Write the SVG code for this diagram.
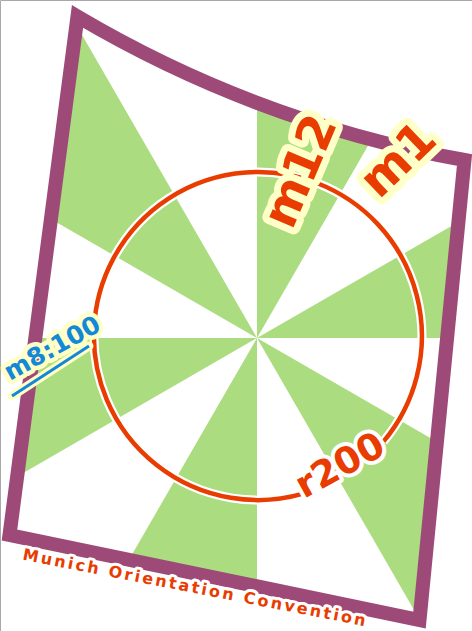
<svg xmlns="http://www.w3.org/2000/svg" width="472" height="631" viewBox="0 0 472 631">
<defs>
<style>
.g{fill:#acdc80}
.lbl{font-family:"DejaVu Sans","Liberation Sans",sans-serif;font-weight:bold}
.halo{paint-order:stroke;stroke-linejoin:round;stroke-linecap:round}
</style>
<clipPath id="inside"><path d="M77.5,16.5 Q258,123 464.5,160 L419.5,620 L9.5,535 Z"/></clipPath>
</defs>
<rect width="472" height="631" fill="#fff"/>
<path d="M0.5,631 V0.5 H472" fill="none" stroke="#a8a8a8" stroke-width="1"/>
<g id="sectors" clip-path="url(#inside)">
<polygon class="g" points="257,338 758,338 691,88"/>
<polygon class="g" points="257,338 507,-95 257,-162"/>
<polygon class="g" points="257,338 7,-95 -176,88"/>
<polygon class="g" points="257,338 -243,338 -176,588"/>
<polygon class="g" points="257,338 7,771 257,838"/>
<polygon class="g" points="257,338 507,771 691,588"/>
</g>
<g id="frame">
<path d="M77.5,16.5 Q258,123 464.5,160 L419.5,620 L9.5,535 Z" fill="none" stroke="#9e4a78" stroke-width="14" stroke-linejoin="miter"/>
</g>
<g id="circle">
<path d="M383.6,441.4 A164,164 0 1 0 303.2,493.7" fill="none" stroke="#fff" stroke-width="9"/>
<path d="M383.6,441.4 A164,164 0 1 0 303.2,493.7" fill="none" stroke="#e83c00" stroke-width="4.5"/>
</g>
<g id="label-r200">
<text class="lbl halo" x="304" y="499" transform="rotate(-29 304 499)" font-size="37" fill="#e83c00" stroke="#fff" stroke-width="8">r200</text>
</g>
<g id="label-m12">
<text class="lbl halo" x="292" y="231" transform="rotate(-67 292 231)" font-size="48" fill="#e83c00" stroke="#ffffc8" stroke-width="14">m12</text>
</g>
<g id="label-m1">
<text class="lbl halo" x="379" y="200" transform="rotate(-44 379 200)" font-size="48" fill="#e83c00" stroke="#ffffc8" stroke-width="14">m1</text>
</g>
<g id="label-m8">
<line x1="12" y1="396" x2="89" y2="346" stroke="#ffffc8" stroke-width="9" stroke-linecap="round"/>
<text class="lbl halo" x="10" y="381" transform="rotate(-29 10 381)" font-size="25" fill="#1488d8" stroke="#ffffc8" stroke-width="9">m8:100</text>
<line x1="12" y1="396" x2="89" y2="346" stroke="#1488d8" stroke-width="3"/>
</g>
<g id="title">
<text class="lbl halo" x="22" y="559.5" transform="rotate(11 22 559.5)" font-size="16" letter-spacing="2.4" fill="#e83c00" stroke="#fff" stroke-width="6">Munich Orientation Convention</text>
</g>
</svg>
